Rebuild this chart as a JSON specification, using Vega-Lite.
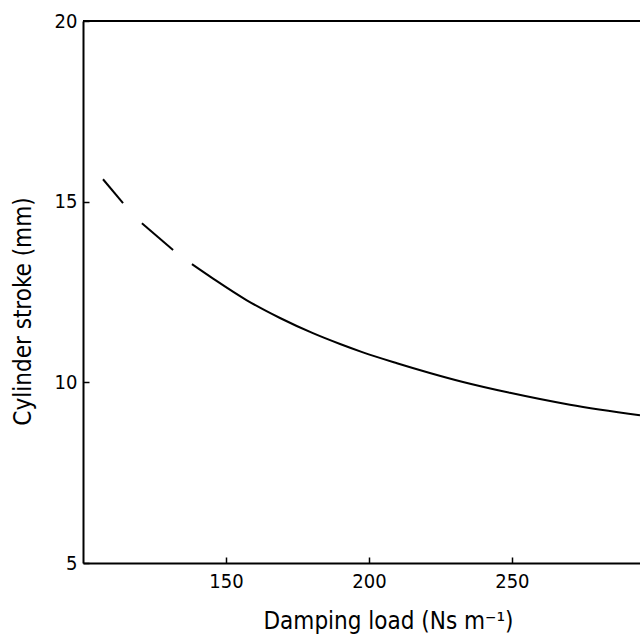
{
  "$schema": "https://vega.github.io/schema/vega-lite/v6.json",
  "autosize": "none",
  "width": 557,
  "height": 542,
  "padding": {"left": 83, "top": 21, "right": 0, "bottom": 75},
  "background": "white",
  "config": {
    "view": {"stroke": null},
    "font": "DejaVu Sans Condensed",
    "axis": {
      "domainColor": "black",
      "domainWidth": 2,
      "tickColor": "black",
      "tickWidth": 1.5,
      "tickSize": -6,
      "labelColor": "black",
      "titleColor": "black",
      "labelFont": "DejaVu Sans Condensed",
      "titleFont": "DejaVu Sans Condensed",
      "labelFontSize": 20,
      "titleFontSize": 24,
      "titleFontWeight": "normal",
      "grid": false
    }
  },
  "layer": [
    {
      "data": {"values": [
        {"load": 107.0, "stroke": 15.62, "seg": "a"},
        {"load": 114.0, "stroke": 14.96, "seg": "a"},
        {"load": 120.6, "stroke": 14.40, "seg": "b"},
        {"load": 131.5, "stroke": 13.66, "seg": "b"},
        {"load": 138.1, "stroke": 13.27, "seg": "c"},
        {"load": 145.5, "stroke": 12.87, "seg": "c"},
        {"load": 157.3, "stroke": 12.27, "seg": "c"},
        {"load": 168.9, "stroke": 11.78, "seg": "c"},
        {"load": 180.4, "stroke": 11.36, "seg": "c"},
        {"load": 189.9, "stroke": 11.06, "seg": "c"},
        {"load": 197.9, "stroke": 10.83, "seg": "c"},
        {"load": 209.8, "stroke": 10.53, "seg": "c"},
        {"load": 221.3, "stroke": 10.26, "seg": "c"},
        {"load": 232.9, "stroke": 10.01, "seg": "c"},
        {"load": 249.3, "stroke": 9.71, "seg": "c"},
        {"load": 270.3, "stroke": 9.38, "seg": "c"},
        {"load": 294.8, "stroke": 9.09, "seg": "c"}
      ]},
      "mark": {"type": "line", "color": "black", "strokeWidth": 2, "interpolate": "monotone"},
      "encoding": {
        "x": {
          "field": "load", "type": "quantitative",
          "scale": {"domain": [100, 294.8], "nice": false, "zero": false},
          "axis": {
            "values": [150, 200, 250],
            "title": "Damping load (Ns m⁻¹)",
            "labelPadding": 14,
            "titleX": 305,
            "titleY": 58,
            "titleBaseline": "middle",
            "titleAlign": "center"
          }
        },
        "y": {
          "field": "stroke", "type": "quantitative",
          "scale": {"domain": [5, 20], "nice": false, "zero": false},
          "axis": {
            "values": [5, 10, 15, 20],
            "title": "Cylinder stroke (mm)",
            "labelPadding": 12,
            "titleX": -60,
            "titleY": 290,
            "titleBaseline": "middle",
            "titleAlign": "center",
            "titleAngle": -90
          }
        },
        "detail": {"field": "seg", "type": "nominal"}
      }
    },
    {
      "data": {"values": [{"stroke": 20}]},
      "mark": {"type": "rule", "color": "black", "strokeWidth": 2},
      "encoding": {
        "y": {"field": "stroke", "type": "quantitative"}
      }
    }
  ]
}
